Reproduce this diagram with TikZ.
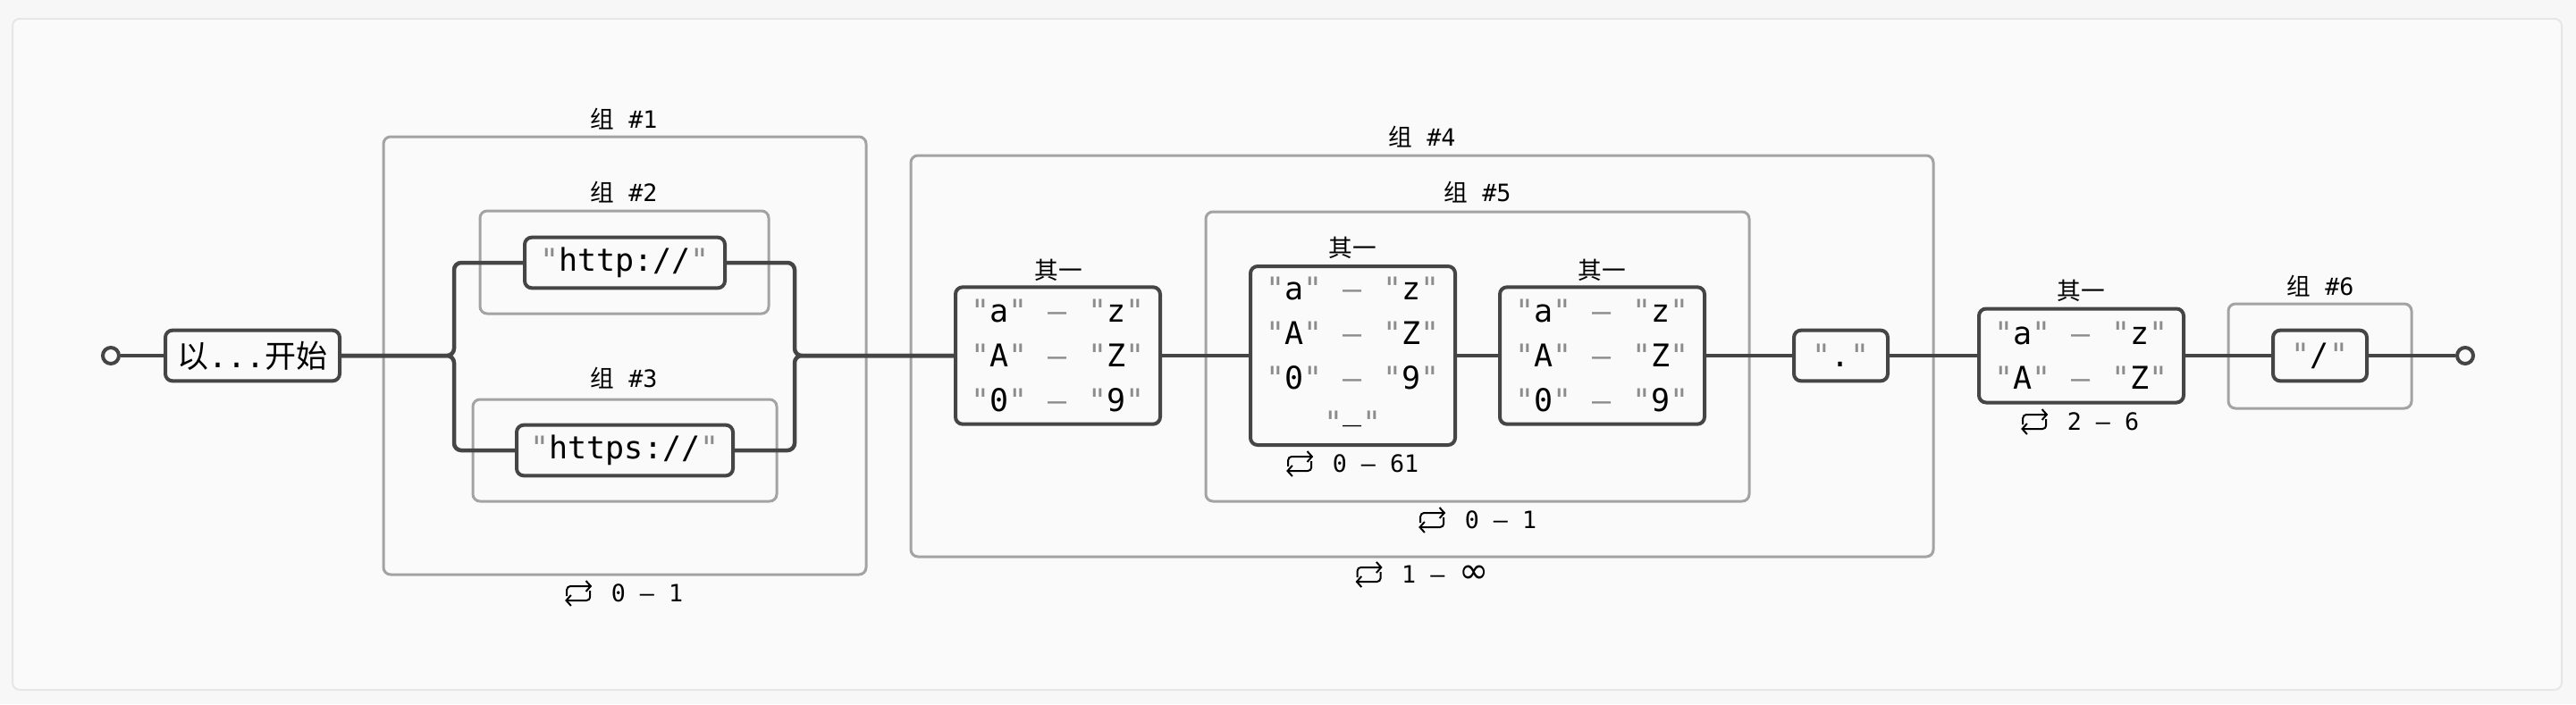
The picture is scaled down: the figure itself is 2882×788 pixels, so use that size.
\documentclass[tikz,border=0pt]{standalone}
\usepackage{fontspec}
\setmonofont{DejaVu Sans Mono}
\newfontfamily\cjk{Noto Sans CJK SC}
\newfontfamily\symf{DejaVu Sans}
\usetikzlibrary{arrows.meta}
\definecolor{ink}{HTML}{454545}
\definecolor{grpline}{HTML}{A3A3A3}
\definecolor{qcol}{HTML}{8C8C8C}
\definecolor{paper}{HTML}{FAFAFA}
\definecolor{outer}{HTML}{F7F7F7}
\definecolor{rim}{HTML}{E6E6E6}
\newcommand\qq[1]{\textcolor{qcol}{"}#1\textcolor{qcol}{"}}
\newcommand\rng[2]{\qq{#1}\hspace{0.7pt} \textcolor{qcol}{–} \hspace{0.7pt}\qq{#2}}

\begin{document}
\begin{tikzpicture}[%
    x=0.3pt, y=-0.3pt,
    conn/.style={draw=ink, line width=1.35pt},
    term/.style={draw=ink, line width=1.2pt, fill=paper, rounded corners=2.4pt,
      font=\ttfamily\fontsize{10.5}{15}\selectfont, align=center,
      inner xsep=4pt, inner ysep=0pt, minimum height=17pt},
    grp/.style={draw=grpline, line width=0.9pt, rounded corners=2.4pt},
    labl/.style={font=\ttfamily\fontsize{8}{10}\selectfont, inner sep=0pt},
    ends/.style={circle, draw=ink, line width=1.2pt, fill=paper,
      minimum size=5.4pt, inner sep=0pt},
    barb/.style={line width=0.6pt, rounded corners=1.2pt,
      -{Straight Barb[length=1.6pt,width=3.6pt]}},
    repicon/.pic={
      \draw[barb] (-13,3) -- (-13,-8) -- (15,-8);
      \draw[barb] (13,-3) -- (13,8) -- (-15,8);
    }
  ]
    \useasboundingbox (0,0) rectangle (2882,788);
    \fill[outer] (0,0) rectangle (2882,788);
    \draw[rim, fill=paper, line width=0.6pt, rounded corners=2.4pt] (14,21) rectangle (2866,772);

    % groups
    \draw[grp] (429,153) rectangle (969,643);
    \draw[grp] (537,236) rectangle (860,351);
    \draw[grp] (529,447) rectangle (869,561);
    \draw[grp] (1019,174) rectangle (2163,623);
    \draw[grp] (1349,237) rectangle (1957,561);
    \draw[grp] (2493,340) rectangle (2698,457);
    \node[labl] (g1) at (698,133) {{\cjk 组} \#1};
    \node[labl] (g2) at (698,215) {{\cjk 组} \#2};
    \node[labl] (g3) at (698,423) {{\cjk 组} \#3};
    \node[labl] (g4) at (1591,153) {{\cjk 组} \#4};
    \node[labl] (g5) at (1653,215) {{\cjk 组} \#5};
    \node[labl] (g6) at (2596,320) {{\cjk 组} \#6};

    % terms
    \node[ends] (s) at (124,398) {};
    \node[term, minimum width=58.5pt] (b0) at (282.5,398) {{\cjk 以}...{\cjk 开始}};
    \node[term, minimum width=67.2pt] (http) at (699,294) {\qq{http://}};
    \node[term, minimum width=72.6pt] (https) at (699,504) {\qq{https://}};
    \node[term, minimum width=68.7pt, minimum height=46pt] (cA) at (1183.5,398)
      {\rng{a}{z}\\\rng{A}{Z}\\\rng{0}{9}};
    \node[term, minimum width=68.7pt, minimum height=60pt] (cB) at (1513.5,398)
      {\rng{a}{z}\\\rng{A}{Z}\\\rng{0}{9}\\\qq{\raisebox{5pt}{\_}}};
    \node[term, minimum width=68.7pt, minimum height=46pt] (cC) at (1792.5,398)
      {\rng{a}{z}\\\rng{A}{Z}\\\rng{0}{9}};
    \node[term, minimum width=31.5pt] (dot) at (2059.5,398) {\qq{.}};
    \node[term, minimum width=68.7pt, minimum height=31.5pt] (cD) at (2328.5,398)
      {\rng{a}{z}\\\rng{A}{Z}};
    \node[term, minimum width=31.5pt] (sl) at (2595.5,398) {\qq{/}};
    \node[ends] (e) at (2758,398) {};

    \node[labl] (lA) at (1184,302) {\cjk 其一};
    \node[labl] (lB) at (1513,277) {\cjk 其一};
    \node[labl] (lC) at (1792,302) {\cjk 其一};
    \node[labl] (lD) at (2328,325) {\cjk 其一};

    % repeats
    \node[labl] (r1) at (724,664) {0 – 1};
    \node[labl] (r4) at (1617,643) {1 – {\symf\fontsize{12}{12}\selectfont ∞}};
    \node[labl] (r5) at (1679,582) {0 – 1};
    \node[labl] (rB) at (1539,519) {0 – 61};
    \node[labl] (rD) at (2353,472) {2 – 6};
    \pic at ([xshift=-10.8pt]r1.west) {repicon};
    \pic at ([xshift=-10.8pt]r4.west) {repicon};
    \pic at ([xshift=-10.8pt]r5.west) {repicon};
    \pic at ([xshift=-10.8pt]rB.west) {repicon};
    \pic at ([xshift=-10.8pt]rD.west) {repicon};

    % track
    \coordinate (fork) at (508,398);
    \coordinate (join) at (889,398);
    \draw[conn] (s) -- (b0);
    \draw[conn, rounded corners=2.4pt] (b0.east) -- (fork) |- (http.west);
    \draw[conn, rounded corners=2.4pt] (b0.east) -- (fork) |- (https.west);
    \draw[conn, rounded corners=2.4pt] (http.east) -| (join) -- (cA.west);
    \draw[conn, rounded corners=2.4pt] (https.east) -| (join) -- (cA.west);
    \draw[conn] (cA) -- (cB);
    \draw[conn] (cB) -- (cC);
    \draw[conn] (cC) -- (dot);
    \draw[conn] (dot) -- (cD);
    \draw[conn] (cD) -- (sl);
    \draw[conn] (sl) -- (e);
\end{tikzpicture}
\end{document}
